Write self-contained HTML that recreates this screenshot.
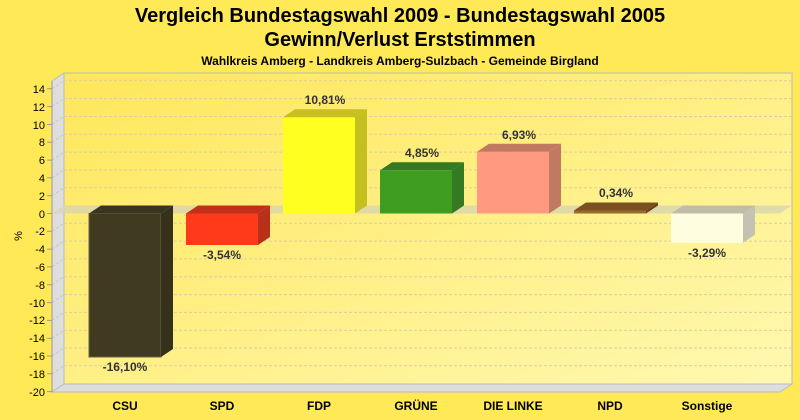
<!DOCTYPE html>
<html><head><meta charset="utf-8"><style>
html,body{margin:0;padding:0;background:#ffe957;}
svg{display:block;font-family:"Liberation Sans",sans-serif;}
</style></head><body>
<svg width="800" height="420" xmlns="http://www.w3.org/2000/svg">
<defs>
<linearGradient id="bg" x1="0" y1="0" x2="1" y2="1">
<stop offset="0" stop-color="#ffe75a"/><stop offset="1" stop-color="#fff8b0"/>
</linearGradient>
</defs>
<rect width="800" height="420" fill="#ffe957"/>
<text x="400" y="22" font-size="20" font-weight="bold" text-anchor="middle" fill="#000">Vergleich Bundestagswahl 2009 - Bundestagswahl 2005</text>
<text x="400" y="46" font-size="20" font-weight="bold" text-anchor="middle" fill="#000">Gewinn/Verlust Erststimmen</text>
<text x="400" y="65" font-size="12" font-weight="bold" text-anchor="middle" fill="#000">Wahlkreis Amberg - Landkreis Amberg-Sulzbach - Gemeinde Birgland</text>
<rect x="64" y="73" width="728" height="311" fill="url(#bg)" stroke="#bbb" stroke-width="1"/>
<polygon points="52,81 64,73 64,384 52,392" fill="#dedede" stroke="#bbb" stroke-width="1"/>
<polygon points="52,392 64,384 792,384 780,392" fill="#dedede" stroke="#bbb" stroke-width="1"/>
<g stroke="#d8cfa0" stroke-dasharray="3,2" stroke-width="1">
<line x1="64" x2="792" y1="80.8" y2="80.8"/><line x1="64" x2="792" y1="98.6" y2="98.6"/>
<line x1="64" x2="792" y1="116.5" y2="116.5"/><line x1="64" x2="792" y1="134.3" y2="134.3"/>
<line x1="64" x2="792" y1="152.1" y2="152.1"/><line x1="64" x2="792" y1="169.9" y2="169.9"/>
<line x1="64" x2="792" y1="187.7" y2="187.7"/>
<line x1="64" x2="792" y1="223.3" y2="223.3"/><line x1="64" x2="792" y1="241.1" y2="241.1"/>
<line x1="64" x2="792" y1="258.9" y2="258.9"/><line x1="64" x2="792" y1="276.8" y2="276.8"/>
<line x1="64" x2="792" y1="294.6" y2="294.6"/><line x1="64" x2="792" y1="312.4" y2="312.4"/>
<line x1="64" x2="792" y1="330.2" y2="330.2"/><line x1="64" x2="792" y1="348.0" y2="348.0"/>
<line x1="64" x2="792" y1="365.8" y2="365.8"/>
</g>
<g stroke="#c8c8c8" stroke-dasharray="3,2" stroke-width="1">
<path d="M52 88.8l12-8M52 106.6l12-8M52 124.5l12-8M52 142.3l12-8M52 160.1l12-8M52 177.9l12-8M52 195.7l12-8M52 231.3l12-8M52 249.1l12-8M52 266.9l12-8M52 284.8l12-8M52 302.6l12-8M52 320.4l12-8M52 338.2l12-8M52 356l12-8M52 373.8l12-8"/>
</g>
<g stroke="#999" stroke-width="1">
<line x1="52" y1="81" x2="52" y2="392"/>
</g>
<g font-size="11" text-anchor="end" fill="#000">
<text x="45" y="93">14</text><text x="45" y="111">12</text><text x="45" y="129">10</text>
<text x="45" y="146">8</text><text x="45" y="164">6</text><text x="45" y="182">4</text>
<text x="45" y="200">2</text><text x="45" y="218">0</text><text x="45" y="235">-2</text>
<text x="45" y="253">-4</text><text x="45" y="271">-6</text><text x="45" y="289">-8</text>
<text x="45" y="307">-10</text><text x="45" y="324">-12</text><text x="45" y="342">-14</text>
<text x="45" y="360">-16</text><text x="45" y="378">-18</text><text x="45" y="396">-20</text>
</g>
<g stroke="#999"><path d="M47 88.8h5M47 106.6h5M47 124.5h5M47 142.3h5M47 160.1h5M47 177.9h5M47 195.7h5M47 213.5h5M47 231.3h5M47 249.1h5M47 266.9h5M47 284.8h5M47 302.6h5M47 320.4h5M47 338.2h5M47 356h5M47 373.8h5M47 391.6h5"/></g>
<text x="22" y="236" font-size="11" fill="#000" transform="rotate(-90 22 236)" text-anchor="middle">%</text>
<polygon points="52,213.5 64,205.5 792,205.5 780,213.5" fill="#d8d4b0" opacity="0.8"/>
<rect x="89" y="213.5" width="72" height="143.5" fill="#403a20" stroke="#6a6340"/>
<polygon points="89,213.5 101,205.5 173,205.5 161,213.5" fill="#3a3520"/>
<polygon points="161,213.5 173,205.5 173,349 161,357" fill="#36311a"/>
<rect x="186" y="213.5" width="72" height="31.5" fill="#ff3a1a"/>
<polygon points="186,213.5 198,205.5 270,205.5 258,213.5" fill="#c0301a"/>
<polygon points="258,213.5 270,205.5 270,237 258,245" fill="#b8301a"/>
<rect x="283" y="117.2" width="72" height="96.3" fill="#ffff20"/>
<polygon points="283,117.2 295,109.2 367,109.2 355,117.2" fill="#c8c020"/>
<polygon points="355,117.2 367,109.2 367,205.5 355,213.5" fill="#c4c020"/>
<rect x="380" y="170.3" width="72" height="43.2" fill="#3e9c20"/>
<polygon points="380,170.3 392,162.3 464,162.3 452,170.3" fill="#347a20"/>
<polygon points="452,170.3 464,162.3 464,205.5 452,213.5" fill="#357a20"/>
<rect x="477" y="151.8" width="72" height="61.7" fill="#ff9a80"/>
<polygon points="477,151.8 489,143.8 561,143.8 549,151.8" fill="#c07860"/>
<polygon points="549,151.8 561,143.8 561,205.5 549,213.5" fill="#c07a64"/>
<rect x="574" y="210.5" width="72" height="3" fill="#9a6a30"/>
<polygon points="574,210.5 586,202.5 658,202.5 646,210.5" fill="#7a5020"/>
<polygon points="646,210.5 658,202.5 658,205.5 646,213.5" fill="#6a4418"/>
<rect x="671" y="213.5" width="72" height="29.3" fill="#fffde0"/>
<polygon points="671,213.5 683,205.5 755,205.5 743,213.5" fill="#c0bca8"/>
<polygon points="743,213.5 755,205.5 755,234.8 743,242.8" fill="#c4c2b0"/>
<g font-size="12" font-weight="bold" fill="#333" text-anchor="middle">
<text x="125" y="371">-16,10%</text>
<text x="222" y="259">-3,54%</text>
<text x="325" y="104">10,81%</text>
<text x="422" y="157">4,85%</text>
<text x="519" y="139">6,93%</text>
<text x="616" y="197">0,34%</text>
<text x="707" y="257">-3,29%</text>
</g>
<g font-size="12" font-weight="bold" fill="#000" text-anchor="middle">
<text x="125" y="410">CSU</text><text x="222" y="410">SPD</text><text x="319" y="410">FDP</text>
<text x="416" y="410">GRÜNE</text><text x="513" y="410">DIE LINKE</text><text x="610" y="410">NPD</text>
<text x="707" y="410">Sonstige</text>
</g>
</svg>
</body></html>
